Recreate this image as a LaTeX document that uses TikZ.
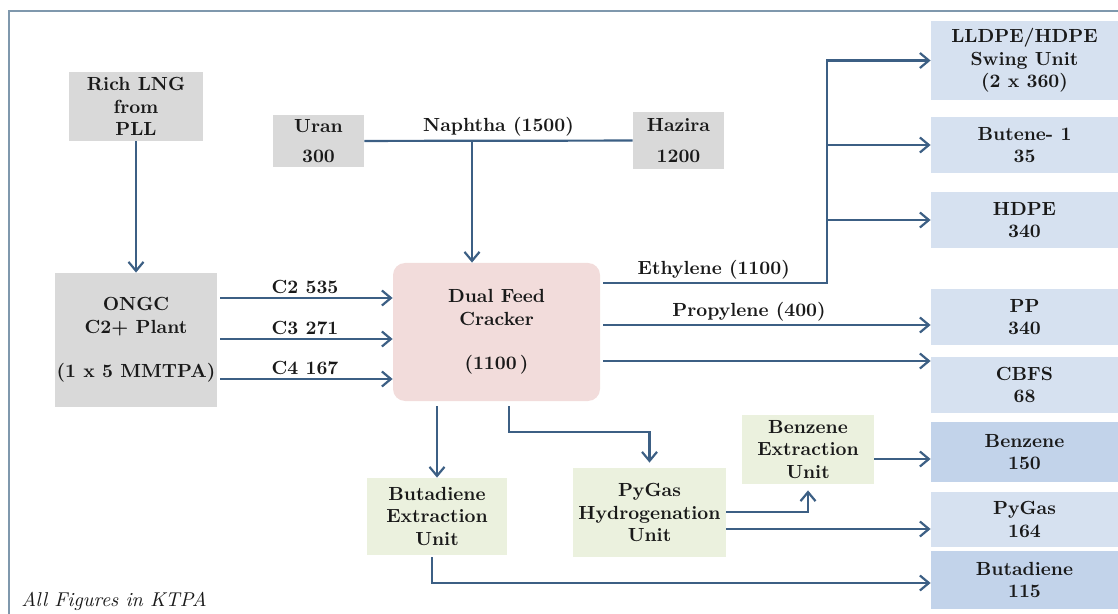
\documentclass[tikz,border=0pt]{standalone}
\usetikzlibrary{arrows.meta}

\definecolor{boxgray}{HTML}{D9D9D9}
\definecolor{boxpink}{HTML}{F2DCDB}
\definecolor{boxgreen}{HTML}{EBF1DE}
\definecolor{boxblue}{HTML}{D6E1F0}
\definecolor{boxbluedark}{HTML}{C2D3EA}
\definecolor{flowcol}{HTML}{3C5F84}
\definecolor{framecol}{HTML}{7F98AD}

\begin{document}
\begin{tikzpicture}[x=0.5pt,y=-0.5pt,
  every node/.style={font=\fontsize{9.5}{11.3}\selectfont\bfseries, text=black!90, align=center, inner sep=0pt},
  graybox/.style={fill=boxgray},
  bluebox/.style={fill=boxblue, minimum width=93.5pt},
  greenbox/.style={fill=boxgreen},
  crackbox/.style={fill=boxpink, rounded corners=6pt},
  flow/.style={draw=flowcol, line width=1.1pt, -{Straight Barb[length=4.5pt,width=7.5pt]}},
  lbl/.style={above=1.5pt}]

\useasboundingbox (0,0) rectangle (1118,614);
\draw[framecol, line width=0.8pt] (9,11) rectangle (1140,640);

% Nodes
\node[graybox, minimum width=67pt, minimum height=34.5pt] (rich) at (136,106.5) {Rich LNG\\from\\PLL};
\node[graybox, minimum width=45.5pt, minimum height=26pt] (uran) at (318.5,141) {Uran\\[4pt]300};
\node[graybox, minimum width=45.5pt, minimum height=28.5pt] (hazira) at (678.5,140.5) {Hazira\\[4pt]1200};
\node[graybox, minimum width=81pt, minimum height=67pt] (ongc) at (136,340) {ONGC\\C2+ Plant\\[11pt](1 x 5 MMTPA)};
\node[crackbox, minimum width=103.5pt, minimum height=69pt] (crack) at (496.5,332) {Dual Feed\\Cracker\\[11pt](1100\,)};

\node[bluebox, minimum height=39.5pt] (lldpe) at (1024.5,60.5) {LLDPE/HDPE\\Swing Unit\\(2 x 360)};
\node[bluebox, minimum height=28pt] (butene) at (1024.5,145) {Butene- 1\\35};
\node[bluebox, minimum height=28pt] (hdpe) at (1024.5,220) {HDPE\\340};
\node[bluebox, minimum height=28pt] (pp) at (1024.5,317) {PP\\340};
\node[bluebox, minimum height=28pt] (cbfs) at (1024.5,385) {CBFS\\68};
\node[bluebox, fill=boxbluedark, minimum height=30pt] (benzene) at (1024.5,452) {Benzene\\150};
\node[bluebox, minimum height=27.5pt] (pygas) at (1024.5,519.5) {PyGas\\164};
\node[bluebox, fill=boxbluedark, minimum height=29pt] (butadiene) at (1024.5,580) {Butadiene\\115};

\node[greenbox, minimum width=70pt, minimum height=38.5pt] (bdeu) at (437,516.5) {Butadiene\\Extraction\\Unit};
\node[greenbox, minimum width=76.5pt, minimum height=44.5pt] (pyhu) at (649.5,512.5) {PyGas\\Hydrogenation\\Unit};
\node[greenbox, minimum width=66pt, minimum height=34.5pt] (bzxu) at (808,449.5) {Benzene\\Extraction\\Unit};

\node[font=\fontsize{10}{12}\selectfont\itshape, anchor=base west] (note) at (21,606) {All Figures in KTPA};

\coordinate (naph) at (472,141);
\coordinate (eth) at (827,283);

% Edges
\draw[flow] (rich) -- (rich |- ongc.north);
\draw[flowcol, line width=1.1pt] (uran) -- node[lbl] {Naphtha (1500)} (hazira);
\draw[flow] (naph) -- (naph |- crack.north);

\draw[flow, shorten <=1.5pt] (ongc.east |- 0,298) -- node[lbl] {C2 535} (crack.west |- 0,298);
\draw[flow, shorten <=1.5pt] (ongc.east |- 0,339) -- node[lbl] {C3 271} (crack.west |- 0,339);
\draw[flow, shorten <=1.5pt] (ongc.east |- 0,379) -- node[lbl] {C4 167} (crack.west |- 0,379);

\draw[flow, shorten <=1.5pt] (crack.east |- eth) -- node[lbl] {Ethylene (1100)} (eth) |- (lldpe.west);
\draw[flow] (eth |- butene) -- (butene.west);
\draw[flow] (eth |- hdpe) -- (hdpe.west);
\draw[flow, shorten <=1.5pt] (crack.east |- 0,325) -- node[lbl, pos=0.45] {Propylene (400)} (pp.west |- 0,325);
\draw[flow, shorten <=1.5pt] (crack.east |- 0,361) -- (cbfs.west |- 0,361);

\draw[flow, shorten <=2.5pt] (crack.south -| bdeu) -- (bdeu.north);
\draw[flow, shorten <=2.5pt, shorten >=2.5pt] (crack.south -| 509,0) -- (509,432) -| (pyhu.north);
\draw[flow, shorten <=1pt] ([xshift=-2.5pt]bdeu.south) |- (butadiene.west |- 0,583);

\draw[flow, shorten >=3pt] (pyhu.east |- 0,512) -| (bzxu.south);
\draw[flow] (pyhu.east |- 0,529) -- (pygas.west |- 0,529);
\draw[flow] (bzxu.east |- 0,459) -- (benzene.west |- 0,459);

\end{tikzpicture}
\end{document}
